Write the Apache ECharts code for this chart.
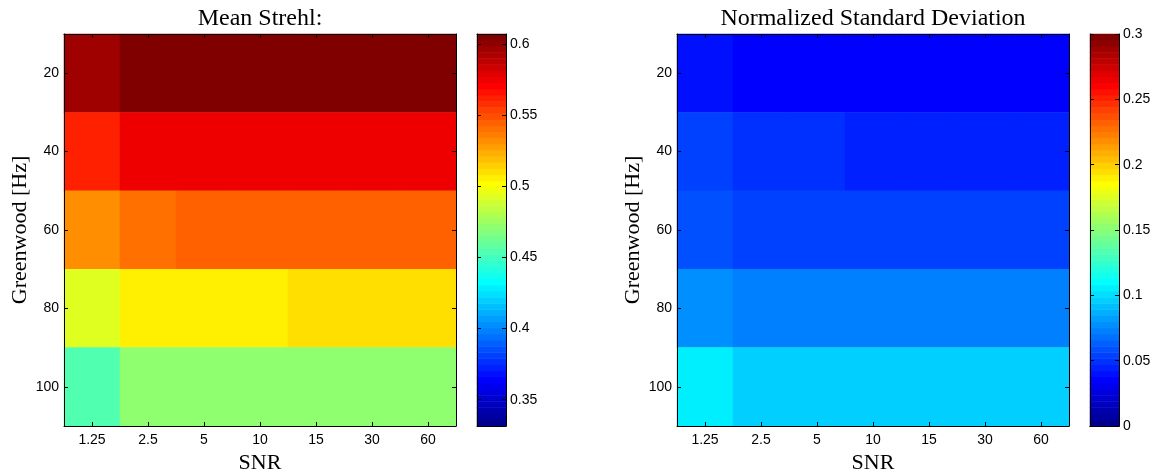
<!DOCTYPE html>
<html>
<head>
<meta charset="utf-8">
<script src="https://cdn.jsdelivr.net/npm/echarts@6/dist/echarts.min.js"></script>
<style>
  html, body { margin: 0; padding: 0; background: #fff; }
  #chart { width: 1157px; height: 473px; }
</style>
</head>
<body>
<div id="chart"></div>
<script>
// ---- data ----
const snr = ['1.25', '2.5', '5', '10', '15', '30', '60'];
const greenwood = ['20', '40', '60', '80', '100'];

// Mean Strehl, rows = Greenwood (20..100), cols = SNR
const meanStrehl = [
  [0.596, 0.605, 0.605, 0.605, 0.605, 0.605, 0.605],
  [0.562, 0.575, 0.575, 0.575, 0.575, 0.575, 0.575],
  [0.532, 0.540, 0.545, 0.545, 0.545, 0.545, 0.545],
  [0.493, 0.506, 0.506, 0.506, 0.510, 0.510, 0.510],
  [0.454, 0.471, 0.471, 0.471, 0.471, 0.471, 0.471]
];

// Normalized standard deviation
const normStd = [
  [0.040, 0.035, 0.035, 0.035, 0.035, 0.035, 0.035],
  [0.054, 0.049, 0.049, 0.044, 0.044, 0.044, 0.044],
  [0.059, 0.054, 0.054, 0.054, 0.054, 0.054, 0.054],
  [0.077, 0.073, 0.073, 0.073, 0.073, 0.073, 0.073],
  [0.106, 0.096, 0.096, 0.096, 0.096, 0.096, 0.096]
];

const strehlRange = [0.3315, 0.607];
const stdRange = [0, 0.3];
const strehlTicks = [0.35, 0.4, 0.45, 0.5, 0.55, 0.6];
const stdTicks = [0, 0.05, 0.1, 0.15, 0.2, 0.25, 0.3];

// ---- colormap (MATLAB jet, 64 levels) ----
const NLEV = 64;
function jet(k) {
  const x = k / NLEV;
  const c = v => Math.round(255 * Math.max(0, Math.min(1, v)));
  return 'rgb(' + c(1.5 - Math.abs(4 * x - 3)) + ',' + c(1.5 - Math.abs(4 * x - 2)) + ',' + c(1.5 - Math.abs(4 * x - 1)) + ')';
}
function pieces(range) {
  const step = (range[1] - range[0]) / NLEV;
  const out = [];
  for (let i = 0; i < NLEV; i++) {
    const p = { gte: range[0] + i * step, color: jet(i + 1) };
    if (i === NLEV - 1) p.lte = range[1]; else p.lt = range[0] + (i + 1) * step;
    out.push(p);
  }
  return out;
}
function barLevels(range) {
  const step = (range[1] - range[0]) / NLEV;
  const out = [];
  for (let i = 0; i < NLEV; i++) out.push([0, i, range[0] + (i + 0.5) * step]);
  return out;
}
function cells(m) {
  const out = [];
  m.forEach((row, r) => row.forEach((v, c) => out.push([c, r, v])));
  return out;
}
const levelCats = Array.from({ length: NLEV }, (_, i) => String(i));

// ---- style helpers ----
const sans = 'Liberation Sans';
const serif = 'Liberation Serif';
const line = { show: true, lineStyle: { color: '#000', width: 1 } };
const tickIn = { show: true, inside: true, length: 4, alignWithLabel: true, lineStyle: { color: '#000', width: 1 } };
const lbl = { color: '#000', fontFamily: sans, fontSize: 14 };

function heatX(grid, pos, withLabel) {
  return {
    type: 'category', gridIndex: grid, position: pos, data: snr, z: 10,
    axisLine: line, axisTick: tickIn, splitLine: { show: false },
    axisLabel: Object.assign({ show: withLabel, margin: 7, interval: 0 }, lbl),
    name: withLabel ? 'SNR' : '', nameLocation: 'middle', nameGap: 16,
    nameTextStyle: { fontFamily: serif, fontSize: 22, color: '#000' }
  };
}
function heatY(grid, pos, withLabel) {
  return {
    type: 'category', gridIndex: grid, position: pos, data: greenwood, inverse: true, z: 10,
    axisLine: line, axisTick: tickIn, splitLine: { show: false },
    axisLabel: Object.assign({ show: withLabel, margin: 5, interval: 0 }, lbl),
    name: withLabel ? 'Greenwood [Hz]' : '', nameLocation: 'middle', nameGap: 33,
    nameTextStyle: { fontFamily: serif, fontSize: 22, color: '#000' }
  };
}
function barX(grid, pos) {
  return {
    type: 'category', gridIndex: grid, position: pos, data: ['c'], z: 10,
    axisLine: line, axisTick: { show: false }, axisLabel: { show: false }, splitLine: { show: false }
  };
}
function barValY(grid, pos, range, ticks, withLabel) {
  return {
    type: 'value', gridIndex: grid, position: pos, min: range[0], max: range[1], z: 10,
    axisLine: line, splitLine: { show: false },
    axisTick: { show: true, inside: true, length: 4, customValues: ticks, lineStyle: { color: '#000', width: 1 } },
    axisLabel: Object.assign({ show: withLabel, margin: 4, customValues: ticks }, lbl)
  };
}
function barCatY(grid) {
  return { type: 'category', gridIndex: grid, data: levelCats, show: false };
}

const leftX = 64, rightX = 677, plotW = 392, plotTop = 34, plotH = 392;

const option = {
  backgroundColor: '#fff',
  animation: false,
  title: [
    { text: 'Mean Strehl:', left: leftX + plotW / 2, top: 7, textAlign: 'center', padding: 0,
      textStyle: { fontFamily: serif, fontSize: 24, fontWeight: 'normal', color: '#000' } },
    { text: 'Normalized Standard Deviation', left: rightX + plotW / 2, top: 7, textAlign: 'center', padding: 0,
      textStyle: { fontFamily: serif, fontSize: 24, fontWeight: 'normal', color: '#000' } }
  ],
  grid: [
    { left: leftX, top: plotTop, width: plotW, height: plotH, outerBoundsMode: 'none', containLabel: false },
    { left: 477, top: plotTop, width: 29, height: plotH, outerBoundsMode: 'none', containLabel: false },
    { left: rightX, top: plotTop, width: plotW, height: plotH, outerBoundsMode: 'none', containLabel: false },
    { left: 1090, top: plotTop, width: 29, height: plotH, outerBoundsMode: 'none', containLabel: false }
  ],
  xAxis: [
    heatX(0, 'bottom', true), heatX(0, 'top', false),
    barX(1, 'bottom'), barX(1, 'top'),
    heatX(2, 'bottom', true), heatX(2, 'top', false),
    barX(3, 'bottom'), barX(3, 'top')
  ],
  yAxis: [
    heatY(0, 'left', true), heatY(0, 'right', false),
    barCatY(1), barValY(1, 'left', strehlRange, strehlTicks, false), barValY(1, 'right', strehlRange, strehlTicks, true),
    heatY(2, 'left', true), heatY(2, 'right', false),
    barCatY(3), barValY(3, 'left', stdRange, stdTicks, false), barValY(3, 'right', stdRange, stdTicks, true)
  ],
  visualMap: [
    { type: 'piecewise', show: false, seriesIndex: [0, 1], dimension: 2, pieces: pieces(strehlRange) },
    { type: 'piecewise', show: false, seriesIndex: [2, 3], dimension: 2, pieces: pieces(stdRange) }
  ],
  series: [
    { type: 'heatmap', xAxisIndex: 0, yAxisIndex: 0, data: cells(meanStrehl), emphasis: { disabled: true } },
    { type: 'heatmap', xAxisIndex: 2, yAxisIndex: 2, data: barLevels(strehlRange), emphasis: { disabled: true } },
    { type: 'heatmap', xAxisIndex: 4, yAxisIndex: 5, data: cells(normStd), emphasis: { disabled: true } },
    { type: 'heatmap', xAxisIndex: 6, yAxisIndex: 7, data: barLevels(stdRange), emphasis: { disabled: true } }
  ]
};

const chart = echarts.init(document.getElementById('chart'), null, { renderer: 'canvas' });
chart.setOption(option);
</script>
</body>
</html>
